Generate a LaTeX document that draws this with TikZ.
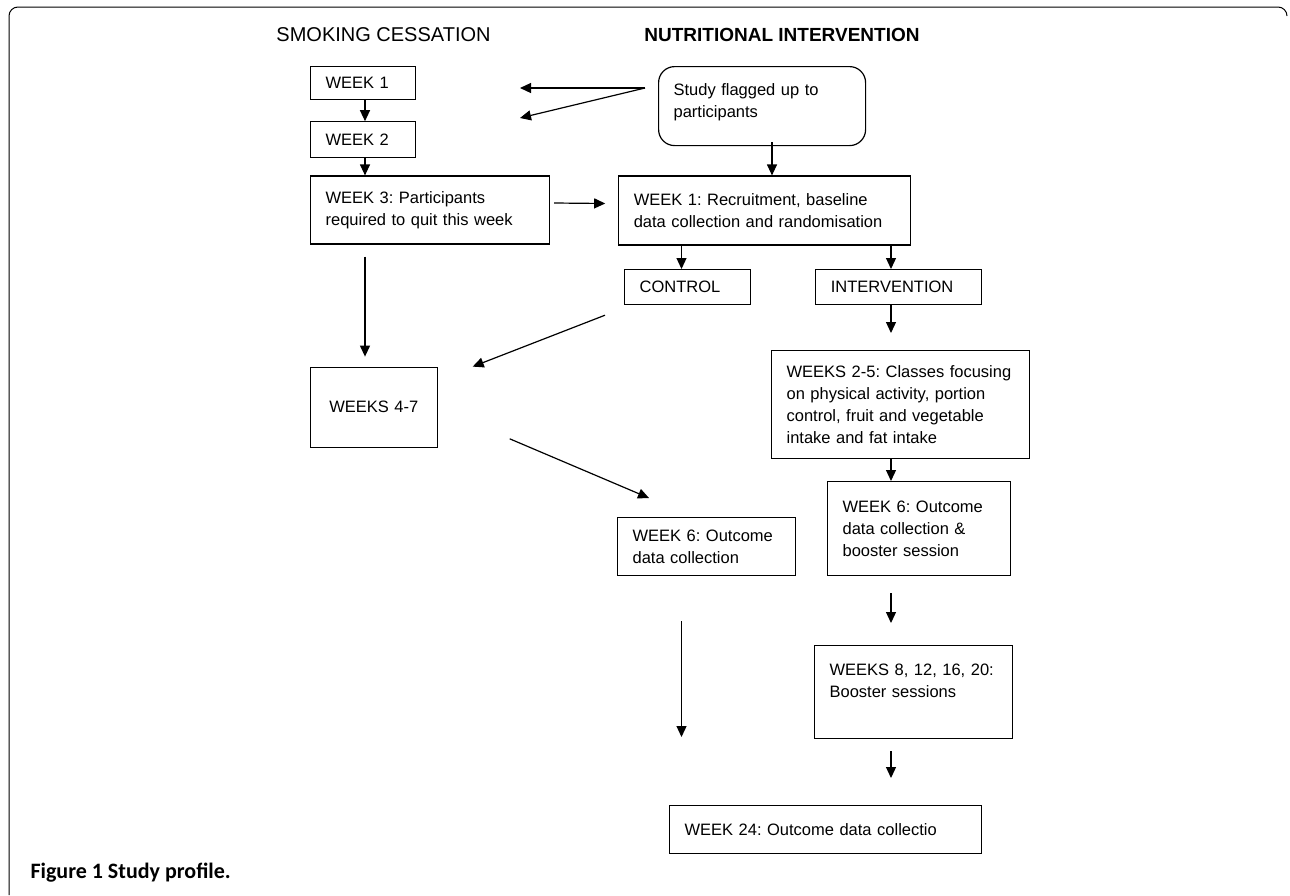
\documentclass[tikz,border=0pt]{standalone}
\usepackage{fontspec}
\setmainfont{Liberation Sans}
\newfontfamily\capfont{Carlito}
\frenchspacing
\usepackage{tikz}
\usetikzlibrary{positioning, arrows.meta, calc}
\tikzstyle{wbox} = [rectangle, draw, line width=1.2pt, anchor=north west, inner xsep=15pt, inner ysep=0pt, align=left, font=\fontsize{16.5}{22}\selectfont]
\tikzstyle{head} = [font=\fontsize{20}{24}\selectfont]
\tikzstyle{line} = [draw, line width=1.2pt, -{Triangle[length=11pt, width=10pt]}]

\begin{document}
\begin{tikzpicture}[x=1pt, y=-1pt, node distance=20pt]
    \useasboundingbox (0,0) rectangle (1290,895);
    \draw[line width=1pt, rounded corners=9pt] (9,895) -- (9,7) -- (1287,7) -- (1287,16);

    \node[head] (smoke) at (383.5,35) {SMOKING CESSATION};
    \node[font=\fontsize{19}{24}\selectfont\bfseries] (nutri) at (782,35) {NUTRITIONAL INTERVENTION};

    \node[wbox, text width=75pt, minimum height=33pt] (week1) at (310,66) {WEEK 1};
    \node[wbox, text width=75pt, minimum height=36pt, below=21pt of week1.south west, anchor=north west] (week2) {WEEK 2};
    \node[wbox, text width=209pt, minimum height=68pt, below=17pt of week2.south west, anchor=north west] (week3) {WEEK 3: Participants\\required to quit this week};
    \node[wbox, text width=96.5pt, minimum height=80pt, align=center, below=122pt of week3.south west, anchor=north west] (week47) {WEEKS 4-7};

    \node[wbox, rounded corners=16pt, text width=177pt, minimum height=79pt] (flagged) at (658,66) {Study flagged up to\\participants\\[-10pt]\mbox{}};
    \node[wbox, text width=262pt, minimum height=69pt, right=68pt of week3.north east, anchor=north west] (week1n) {WEEK 1: Recruitment, baseline\\data collection and randomisation};
    \node[wbox, text width=96pt, minimum height=35pt] (ctrl) at (624,269) {CONTROL};
    \node[wbox, text width=136pt, minimum height=35pt, right=64pt of ctrl.north east, anchor=north west] (intv) {INTERVENTION};
    \node[wbox, text width=228pt, minimum height=108pt] (weeks25) at (771,350) {WEEKS 2-5: Classes focusing\\on physical activity, portion\\control, fruit and vegetable\\intake and fat intake};
    \node[wbox, text width=148pt, minimum height=58pt] (week6c) at (617,517) {WEEK 6: Outcome\\data collection};
    \node[wbox, text width=153pt, minimum height=94pt] (week6i) at (827,481) {WEEK 6: Outcome\\data collection \&\\booster session};
    \node[wbox, text width=168pt, minimum height=93pt] (weeks8) at (814,645) {WEEKS 8, 12, 16, 20:\\Booster sessions\\\mbox{}};
    \node[wbox, text width=282pt, minimum height=48pt] (week24) at (669,805) {WEEK 24: Outcome data collectio};

    \node[anchor=west, font=\capfont\bfseries\fontsize{22}{26}\selectfont] (caption) at (27,873) {Figure 1 Study profile.};

    \coordinate (lspine) at (365,0);
    \coordinate (mspine) at (681.5,0);
    \coordinate (nspine) at (772,0);
    \coordinate (rspine) at (891,0);
    \coordinate (fork) at ($(flagged.north west)+(-13,22)$);
    \coordinate (tipa) at (520,88);
    \coordinate (tipb) at (520,118);

    \path[line] (fork) -- (tipa);
    \path[line] (fork) -- (tipb);
    \path[line] (week1.south -| lspine) -- (week2.north -| lspine);
    \path[line] (week2.south -| lspine) -- (week3.north -| lspine);
    \path[line] ($(week3.south -| lspine)+(0,12)$) -- ($(week47.north -| lspine)+(0,-10)$);
    \path[line] ($(week3.east)+(4,-7)$) -- ($(week1n.west)+(-13,-7)$);
    \path[line] ($(flagged.south -| nspine)+(0,-4)$) -- (week1n.north -| nspine);

    \path[line] (week1n.south -| mspine) -- (ctrl.north -| mspine);
    \path[line] (week1n.south -| rspine) -- (intv.north -| rspine);
    \path[line] (intv.south -| rspine) -- ($(weeks25.north -| rspine)+(0,-17)$);
    \path[line] (weeks25.south -| rspine) -- (week6i.north -| rspine);
    \path[line] ($(week6i.south -| rspine)+(0,17)$) -- ($(weeks8.north -| rspine)+(0,-22)$);
    \path[line] ($(weeks8.south -| rspine)+(0,12)$) -- ($(week24.north -| rspine)+(0,-27)$);

    \path[line] ($(ctrl.south west)+(-19,10)$) -- ($(week47.north east)+(35,0)$);
    \path[line] ($(week47.south east)+(72,-9)$) -- ($(week6c.north west)+(32,-19)$);
    \path[line] ($(week6c.south -| mspine)+(0,45)$) -- ($(week24.north -| mspine)+(0,-68)$);
\end{tikzpicture}
\end{document}
